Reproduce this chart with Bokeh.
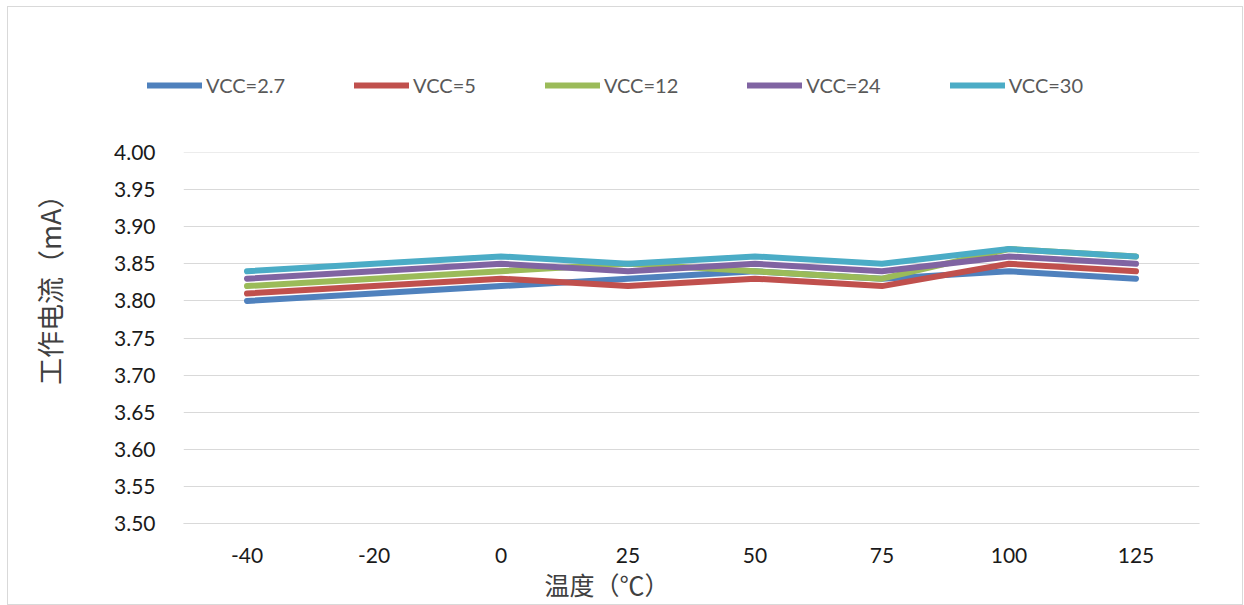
import math
from bokeh.plotting import figure
from bokeh.layouts import column, row
from bokeh.models import (FactorRange, Range1d, FixedTicker, NumeralTickFormatter,
                          Legend, LegendItem, Title, Label)
from bokeh.embed import file_html
from bokeh.resources import INLINE

# ---- data ----
temps = ["-40", "-20", "0", "25", "50", "75", "100", "125"]
vcc_2_7 = [3.80, 3.81, 3.82, 3.83, 3.84, 3.83, 3.84, 3.83]
vcc_5 = [3.81, 3.82, 3.83, 3.82, 3.83, 3.82, 3.85, 3.84]
vcc_12 = [3.82, 3.83, 3.84, 3.85, 3.84, 3.83, 3.87, 3.86]
vcc_24 = [3.83, 3.84, 3.85, 3.84, 3.85, 3.84, 3.86, 3.85]
vcc_30 = [3.84, 3.85, 3.86, 3.85, 3.86, 3.85, 3.87, 3.86]
series_names = ["VCC=2.7", "VCC=5", "VCC=12", "VCC=24", "VCC=30"]
y_ticks = [3.50, 3.55, 3.60, 3.65, 3.70, 3.75, 3.80, 3.85, 3.90, 3.95, 4.00]
x_title = "温度（℃）"
y_title = "工作电流（mA）"

series = [vcc_2_7, vcc_5, vcc_12, vcc_24, vcc_30]
colors = ["#4F81BD", "#C0504D", "#9BBB59", "#8064A2", "#4BACC6"]

TOTAL_W = 1234
LEG_H = 123
MAIN_H = 474
YT_W = 92
NAN = float("nan")


def bare(w, h):
    f = figure(width=w, height=h, x_range=Range1d(0, w), y_range=Range1d(0, h),
               x_axis_type=None, y_axis_type=None,
               output_backend="svg", toolbar_location=None,
               min_border_left=0, min_border_right=0,
               min_border_top=0, min_border_bottom=0)
    f.outline_line_color = None
    f.grid.visible = False
    return f


# ---- legend strip (legend proxies carry no visible data) ----
leg_fig = bare(TOTAL_W, LEG_H)
items = []
for name, col in zip(series_names, colors):
    r = leg_fig.line(x=[NAN, NAN], y=[NAN, NAN], line_color=col, line_width=6,
                     line_cap="round")
    items.append(LegendItem(label=name, renderers=[r]))
legend = Legend(items=items, orientation="horizontal", location=(139, 33),
                padding=0, margin=0, spacing=69, label_standoff=4,
                glyph_width=55, glyph_height=20,
                border_line_color=None, background_fill_alpha=0,
                label_text_font="Lato", label_text_font_size="20px",
                label_text_color="#595959")
leg_fig.add_layout(legend, "center")

# ---- y title strip ----
yt_fig = bare(YT_W, MAIN_H)
yt_fig.add_layout(Label(x=41, y=307, text=y_title, text_align="center",
                        text_baseline="middle", angle=math.pi / 2,
                        text_font="Noto Sans CJK SC", text_font_size="27px",
                        text_color="#404040"))

# ---- main chart ----
p = figure(width=TOTAL_W - YT_W, height=MAIN_H,
           x_range=FactorRange(factors=temps, range_padding=0),
           y_range=Range1d(3.4999, 4.0001),
           output_backend="svg", toolbar_location=None,
           min_border_left=83, min_border_right=43,
           min_border_top=22, min_border_bottom=81)
p.outline_line_color = None
p.xgrid.grid_line_color = None
p.ygrid.grid_line_color = "#D9D9D9"
p.ygrid.grid_line_width = 1

p.yaxis.ticker = FixedTicker(ticks=y_ticks)
p.yaxis.formatter = NumeralTickFormatter(format="0.00")
for ax in (p.xaxis[0], p.yaxis[0]):
    ax.axis_line_color = None
    ax.major_tick_line_color = None
    ax.minor_tick_line_color = None
    ax.major_label_text_font = "Lato"
    ax.major_label_text_font_size = "21px"
    ax.major_label_text_color = "#1a1a1a"
p.xaxis.axis_line_color = "#D9D9D9"
p.yaxis.major_label_standoff = 22
p.xaxis.major_label_standoff = 18

for vals, col in zip(series, colors):
    p.line(x=temps, y=vals, line_color=col, line_width=6,
           line_cap="round", line_join="round")

p.add_layout(Title(text=x_title, align="left", offset=361, standoff=0,
                   vertical_align="top",
                   text_font="Noto Sans CJK SC", text_font_size="25px",
                   text_font_style="normal", text_color="#404040"), "below")

layout = column(leg_fig, row(yt_fig, p))
layout.styles = {"border": "1px solid #d9d9d9", "margin-left": "7px", "margin-top": "6px"}

open("out.html", "w").write(file_html(layout, INLINE))
